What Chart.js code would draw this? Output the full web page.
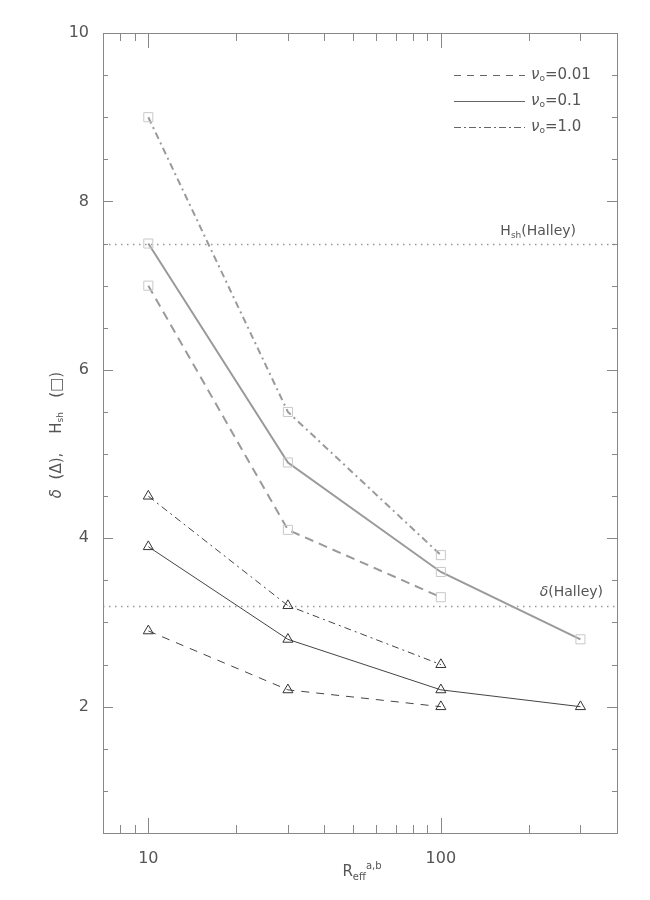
<!DOCTYPE html>
<html>
<head>
<meta charset="utf-8">
<script src="https://cdn.jsdelivr.net/npm/chart.js@4.4.1/dist/chart.umd.min.js"></script>
<style>
  html, body { margin: 0; padding: 0; background: #fff; }
  canvas { display: block; }
</style>
</head>
<body>
<canvas id="grafico" width="650" height="900"></canvas>
<script>
// valores
const radios = [10, 30, 100, 300];
const hsh001 = [7.0, 4.1, 3.3];
const hsh01 = [7.5, 4.9, 3.6, 2.8];
const hsh10 = [9.0, 5.5, 3.8];
const del001 = [2.9, 2.2, 2.0];
const del01 = [3.9, 2.8, 2.2, 2.0];
const del10 = [4.5, 3.2, 2.5];
const hHalley = 7.5;
const dHalley = 3.2;

const xTicks = [8, 9, 10, 20, 30, 40, 50, 60, 70, 80, 90, 100, 200, 300];
const xLabels = [10, 100];
const yTicks = [0.5, 1, 1.5, 2, 2.5, 3, 3.5, 4, 4.5, 5, 5.5, 6, 6.5, 7, 7.5, 8, 8.5, 9, 9.5, 10];
const yLabels = [2, 4, 6, 8, 10];

const FUENTE = '"DejaVu Sans"';
const GRIS = '#555';

function serie(vals) {
    return vals.map((v, i) => ({ x: radios[i], y: v }));
}

// texto con subindices: partes = [texto, tamaño, desplazamiento, estilo]
function textoRico(ctx, partes, x, y, align) {
    const fuente = p => (p[3] || '') + ' ' + p[1] + 'px ' + FUENTE;
    let ancho = 0;
    partes.forEach(p => {
        ctx.font = fuente(p);
        ancho += ctx.measureText(p[0]).width;
    });
    let cx = x;
    if (align === 'right') cx = x - ancho;
    if (align === 'center') cx = x - ancho / 2;
    ctx.textAlign = 'left';
    ctx.textBaseline = 'middle';
    partes.forEach(p => {
        ctx.font = fuente(p);
        ctx.fillText(p[0], cx, y + p[2]);
        cx += ctx.measureText(p[0]).width;
    });
}

const marco = {
    id: 'marco',
    beforeDatasetsDraw(chart) {
        const { ctx, chartArea: a, scales: { x, y } } = chart;
        ctx.save();
        // lineas punteadas de Halley
        ctx.strokeStyle = '#999';
        ctx.lineWidth = 1.5;
        ctx.setLineDash([1.5, 4.5]);
        [hHalley, dHalley].forEach(v => {
            const py = Math.round(y.getPixelForValue(v)) + 0.5;
            ctx.beginPath();
            ctx.moveTo(a.left, py);
            ctx.lineTo(a.right, py);
            ctx.stroke();
        });
        ctx.setLineDash([]);

        // caja
        ctx.strokeStyle = '#888';
        ctx.lineWidth = 1;
        ctx.strokeRect(a.left + 0.5, a.top + 0.5, a.right - a.left, a.bottom - a.top);

        // marcas hacia adentro
        ctx.beginPath();
        xTicks.forEach(v => {
            const px = Math.round(x.getPixelForValue(v)) + 0.5;
            const l = xLabels.includes(v) ? 15 : 8;
            ctx.moveTo(px, a.bottom); ctx.lineTo(px, a.bottom - l);
            ctx.moveTo(px, a.top); ctx.lineTo(px, a.top + l);
        });
        yTicks.forEach(v => {
            const py = Math.round(y.getPixelForValue(v)) + 0.5;
            const l = yLabels.includes(v) ? 10 : 5;
            ctx.moveTo(a.left, py); ctx.lineTo(a.left + l, py);
            ctx.moveTo(a.right, py); ctx.lineTo(a.right - l, py);
        });
        ctx.stroke();
        ctx.restore();
    },
    afterDraw(chart) {
        const { ctx, chartArea: a, scales: { y } } = chart;
        ctx.save();
        ctx.fillStyle = GRIS;

        // leyenda
        const filas = [
            ['0.01', [7, 6]],
            ['0.1', []],
            ['1.0', [7, 3, 2, 3]]
        ];
        filas.forEach((f, i) => {
            const py = a.top + 42 + i * 26;
            ctx.strokeStyle = '#666';
            ctx.lineWidth = 1;
            ctx.setLineDash(f[1]);
            ctx.beginPath();
            ctx.moveTo(a.left + 351, py + 0.5);
            ctx.lineTo(a.left + 422, py + 0.5);
            ctx.stroke();
            textoRico(ctx, [['ν', 15, 0, 'italic'], ['o', 9, 4], ['=' + f[0], 15, 0]], a.left + 428, py, 'left');
        });
        ctx.setLineDash([]);

        // rotulos de Halley
        textoRico(ctx, [['H', 14, 0], ['sh', 9, 4], ['(Halley)', 14, 0]],
            a.right - 41, y.getPixelForValue(hHalley) - 12, 'right');
        textoRico(ctx, [['δ', 14, 0, 'italic'], ['(Halley)', 14, 0]],
            a.right - 14, y.getPixelForValue(dHalley) - 13, 'right');

        // titulo eje x
        textoRico(ctx, [['R', 15, 0], ['eff', 10, 5], ['a,b', 10, -6]],
            (a.left + a.right) / 2 + 2, 872, 'center');

        // titulo eje y
        ctx.translate(57, 435);
        ctx.rotate(-Math.PI / 2);
        textoRico(ctx, [['δ', 15, 0, 'italic'], ['  (Δ),    H', 15, 0], ['sh', 9, 4], ['   (□)', 15, 0]], 0, 0, 'center');
        ctx.restore();
    }
};

const cuadro = {
    pointStyle: 'rect',
    pointRadius: 6.4,
    pointBorderColor: '#c8c8c8',
    pointBackgroundColor: 'rgba(0,0,0,0)',
    pointBorderWidth: 1,
    borderColor: '#9a9a9a',
    borderWidth: 2,
    tension: 0,
    fill: false
};
const triangulo = {
    pointStyle: 'triangle',
    pointRadius: 5.8,
    pointBorderColor: '#333',
    pointBackgroundColor: 'rgba(0,0,0,0)',
    pointBorderWidth: 1,
    borderColor: '#444',
    borderWidth: 1,
    tension: 0,
    fill: false
};

new Chart(document.getElementById('grafico'), {
    type: 'line',
    data: {
        datasets: [
            Object.assign({ label: 'Hsh 0.01', data: serie(hsh001), borderDash: [9, 6] }, cuadro),
            Object.assign({ label: 'Hsh 0.1', data: serie(hsh01) }, cuadro),
            Object.assign({ label: 'Hsh 1.0', data: serie(hsh10), borderDash: [7, 4, 2, 4] }, cuadro),
            Object.assign({ label: 'delta 0.01', data: serie(del001), borderDash: [8, 7] }, triangulo),
            Object.assign({ label: 'delta 0.1', data: serie(del01) }, triangulo),
            Object.assign({ label: 'delta 1.0', data: serie(del10), borderDash: [7, 4, 2, 4] }, triangulo)
        ]
    },
    options: {
        responsive: false,
        animation: false,
        layout: { padding: { top: 33, right: 33, left: 0, bottom: 0 } },
        plugins: {
            legend: { display: false },
            tooltip: { enabled: false }
        },
        scales: {
            x: {
                type: 'logarithmic',
                min: 7,
                max: 400,
                grid: { display: false },
                border: { display: false },
                afterBuildTicks: s => { s.ticks = xTicks.map(v => ({ value: v })); },
                afterFit: s => { s.height = 67; },
                ticks: {
                    autoSkip: false,
                    maxRotation: 0,
                    padding: 8,
                    color: GRIS,
                    font: { family: 'DejaVu Sans', size: 16 },
                    callback: v => xLabels.includes(v) ? String(v) : ''
                }
            },
            y: {
                min: 0.5,
                max: 10,
                grid: { display: false },
                border: { display: false },
                afterBuildTicks: s => { s.ticks = yTicks.map(v => ({ value: v })); },
                afterFit: s => { s.width = 103; },
                ticks: {
                    autoSkip: false,
                    padding: 6,
                    color: GRIS,
                    font: { family: 'DejaVu Sans', size: 16 },
                    callback: v => yLabels.includes(v) ? String(v) : ''
                }
            }
        }
    },
    plugins: [marco]
});
</script>
</body>
</html>
